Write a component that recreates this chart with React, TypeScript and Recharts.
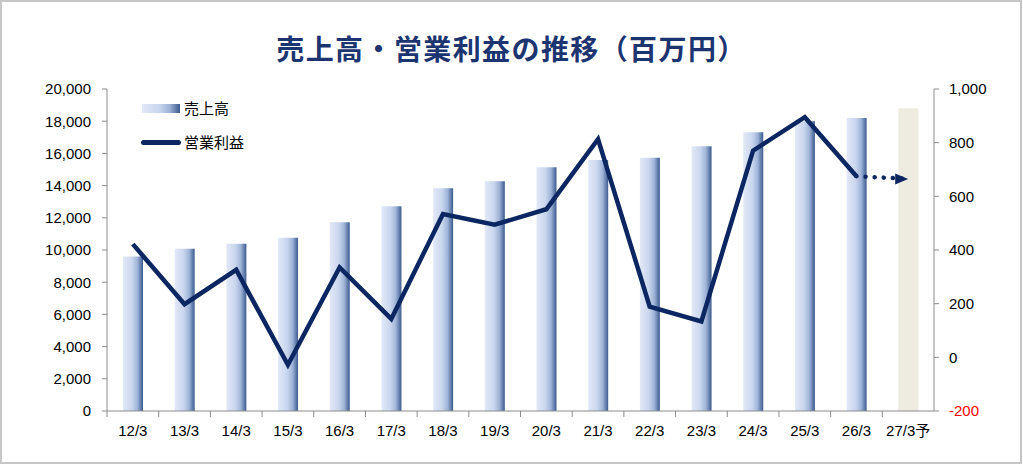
import { ComposedChart, Bar, Line, XAxis, YAxis, Cell } from 'recharts'

const PERIODS = ['12/3', '13/3', '14/3', '15/3', '16/3', '17/3', '18/3', '19/3', '20/3', '21/3', '22/3', '23/3', '24/3', '25/3', '26/3', '27/3予']
const SALES = [9600, 10080, 10390, 10760, 11720, 12710, 13830, 14270, 15140, 15590, 15730, 16440, 17310, 18000, 18200, 18800]
const PROFIT: (number | null)[] = [422, 198, 326, -28, 335, 143, 534, 494, 552, 813, 189, 134, 770, 895, 675, null]
const FORECAST: (number | null)[] = [null, null, null, null, null, null, null, null, null, null, null, null, null, null, 675, 665]
const LEFT_TICKS = [0, 2000, 4000, 6000, 8000, 10000, 12000, 14000, 16000, 18000, 20000]
const RIGHT_TICKS = [-200, 0, 200, 400, 600, 800, 1000]

const NAVY = '#0b2660'
const AXIS = '#8c8c8c'
const BEIGE = '#eeece1'
const FONT = '"Liberation Sans", Arial, "Noto Sans CJK JP", sans-serif'

const data = PERIODS.map((p, i) => ({ period: p, sales: SALES[i], profit: PROFIT[i], forecast: FORECAST[i] }))

const fmt = (v: number) => v.toLocaleString('en-US')

function XTick({ x, y, payload }: any) {
  const off = payload?.offset ?? 0
  const axisY = y - 14
  return (
    <g>
      <line x1={x - off} x2={x - off} y1={axisY} y2={axisY + 6} stroke={AXIS} />
      <text x={x} y={y} dy="0.71em" textAnchor="middle" fontSize={15} fill="#000" fontFamily={FONT}>
        {payload.value}
      </text>
    </g>
  )
}

function RightTick({ x, y, payload }: any) {
  return (
    <text x={x} y={y} dy="0.355em" textAnchor="start" fontSize={15} fill={payload.value < 0 ? '#ff0000' : '#000'} fontFamily={FONT}>
      {fmt(payload.value)}
    </text>
  )
}

function ArrowDot({ cx, cy, index }: any) {
  if (index !== PERIODS.length - 1 || cx == null) return <g key={index} />
  return <polygon key={index} points={`${cx},${cy} ${cx - 13},${cy - 5.5} ${cx - 13},${cy + 5.5}`} fill={NAVY} />
}

export default function App() {
  return (
    <div style={{ position: 'absolute', left: 0, top: 0, width: 1023, height: 465, background: '#fff', fontFamily: FONT }}>
      <div style={{ position: 'absolute', left: 0, top: 0, width: 1022, height: 464, border: '2px solid #c6c6c6', boxSizing: 'border-box' }} />
      <div style={{ position: 'absolute', left: 0, top: 29, width: 1023, textAlign: 'center', fontSize: 28, letterSpacing: 1.4, fontWeight: 'bold', color: '#1c3570', fontFamily: '"Noto Sans CJK JP", sans-serif', lineHeight: '38px' }}>
        売上高・営業利益の推移（百万円）
      </div>
      <ComposedChart width={1023} height={465} data={data} margin={{ top: 89, right: 9, left: 7, bottom: 14 }} style={{ position: 'absolute', left: 0, top: 0 }}>
        <defs>
          <linearGradient id="barGrad" x1="0" y1="0" x2="1" y2="0">
            <stop offset="0%" stopColor="#e2e9f7" />
            <stop offset="45%" stopColor="#c9d6ee" />
            <stop offset="72%" stopColor="#9fb4d8" />
            <stop offset="100%" stopColor="#3b5b8e" />
          </linearGradient>
        </defs>
        <XAxis dataKey="period" height={40} stroke={AXIS} tickLine={false} tickSize={6} tickMargin={8} tick={<XTick />} interval={0} />
        <YAxis yAxisId="left" width={100} domain={[0, 20000]} ticks={LEFT_TICKS} tickFormatter={fmt} stroke={AXIS} tickSize={5} tickMargin={11} tick={{ fontSize: 15, fill: '#000', fontFamily: FONT }} interval={0} />
        <YAxis yAxisId="right" orientation="right" width={80} domain={[-200, 1000]} ticks={RIGHT_TICKS} stroke={AXIS} tickSize={5} tickMargin={10} tick={<RightTick />} interval={0} />
        <Bar yAxisId="left" dataKey="sales" barSize={20} isAnimationActive={false}>
          {data.map((d, i) => (
            <Cell key={d.period} fill={i === PERIODS.length - 1 ? BEIGE : 'url(#barGrad)'} />
          ))}
        </Bar>
        <Line yAxisId="right" dataKey="profit" stroke={NAVY} strokeWidth={4.5} dot={false} activeDot={false} isAnimationActive={false} />
        <Line yAxisId="right" dataKey="forecast" stroke={NAVY} strokeWidth={4.5} strokeDasharray="0.1 9" strokeLinecap="round" dot={<ArrowDot />} activeDot={false} isAnimationActive={false} />
      </ComposedChart>
      <div style={{ position: 'absolute', left: 142, top: 104, width: 38, height: 9, background: 'linear-gradient(to right, #e2e9f7, #c9d6ee 45%, #9fb4d8 72%, #3b5b8e)' }} />
      <div style={{ position: 'absolute', left: 184, top: 97, fontSize: 15, lineHeight: '22px', color: '#000', fontFamily: '"Noto Sans CJK JP", sans-serif' }}>売上高</div>
      <div style={{ position: 'absolute', left: 141, top: 140, width: 40, height: 5, borderRadius: 3, background: NAVY }} />
      <div style={{ position: 'absolute', left: 184, top: 131, fontSize: 15, lineHeight: '22px', color: '#000', fontFamily: '"Noto Sans CJK JP", sans-serif' }}>営業利益</div>
    </div>
  )
}
